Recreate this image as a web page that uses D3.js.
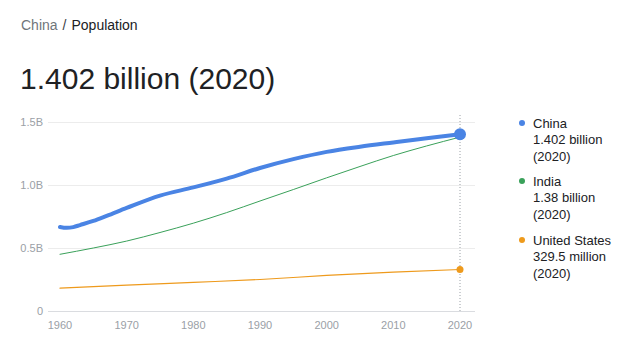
<!DOCTYPE html>
<html>
<head>
<meta charset="utf-8">
<script src="https://cdn.jsdelivr.net/npm/d3@7"></script>
<style>
  body { margin: 0; background: #fff; font-family: Arial, "Liberation Sans", sans-serif; }
  svg { display: block; }
</style>
</head>
<body>
<svg id="chart" width="631" height="351"></svg>
<script>
// population in billions
const chinaYears = [1960, 1961, 1962, 1963, 1965, 1967, 1970, 1975, 1980, 1985, 1990, 1995, 2000, 2005, 2010, 2015, 2020];
const chinaPop = [0.667, 0.660, 0.666, 0.682, 0.715, 0.755, 0.818, 0.916, 0.981, 1.051, 1.135, 1.205, 1.263, 1.304, 1.338, 1.371, 1.402];
const indiaYears = [1960, 1965, 1970, 1975, 1980, 1985, 1990, 1995, 2000, 2005, 2010, 2015, 2020];
const indiaPop = [0.450, 0.500, 0.555, 0.623, 0.697, 0.781, 0.873, 0.964, 1.057, 1.147, 1.234, 1.310, 1.380];
const usYears = [1960, 1970, 1980, 1990, 2000, 2010, 2020];
const usPop = [0.181, 0.205, 0.227, 0.250, 0.282, 0.309, 0.3295];

const yTicks = [0, 0.5, 1.0, 1.5];
const yTickLabels = ["0", "0.5B", "1.0B", "1.5B"];
const xTicks = [1960, 1970, 1980, 1990, 2000, 2010, 2020];

const seriesNames = ["China", "India", "United States"];
const seriesValues = ["1.402 billion", "1.38 billion", "329.5 million"];
const seriesColors = ["#4a84e4", "#3aa15a", "#ee9a1c"];
const seriesWidths = [4, 1, 1.2];

const svg = d3.select("#chart");

// breadcrumb
const crumb = svg.append("text").attr("x", 21).attr("y", 30).attr("font-size", 14);
crumb.append("tspan").attr("fill", "#70757a").text("China");
crumb.append("tspan").attr("fill", "#3c4043").attr("dx", 5).text("/");
crumb.append("tspan").attr("fill", "#202124").attr("dx", 5).text("Population");

svg.append("text")
    .attr("x", 20).attr("y", 89)
    .attr("font-size", 30)
    .attr("fill", "#202124")
    .text("1.402 billion (2020)");

const x = d3.scaleLinear().domain([1960, 2020]).range([60, 460]);
const y = d3.scaleLinear().domain([0, 1.5]).range([311, 122]);

// gridlines + labels
const g = svg.append("g");
g.selectAll(".grid")
    .data(yTicks)
    .join("line")
    .attr("x1", 48).attr("x2", 475)
    .attr("y1", d => y(d)).attr("y2", d => y(d))
    .attr("stroke", d => d === 0 ? "#dadce0" : "#ececec")
    .attr("stroke-width", 1)
    .attr("shape-rendering", "crispEdges");

g.selectAll(".ylab")
    .data(yTicks)
    .join("text")
    .attr("x", 43).attr("y", d => y(d) + 4)
    .attr("text-anchor", "end")
    .attr("font-size", 11)
    .attr("fill", "#9aa0a6")
    .text((d, i) => yTickLabels[i]);

g.selectAll(".xlab")
    .data(xTicks)
    .join("text")
    .attr("x", d => x(d)).attr("y", 329)
    .attr("text-anchor", "middle")
    .attr("font-size", 11)
    .attr("fill", "#9aa0a6")
    .text(d => d);

// dotted hover line at 2020
svg.append("line")
    .attr("x1", x(2020)).attr("x2", x(2020))
    .attr("y1", 115).attr("y2", 311)
    .attr("stroke", "#9aa0a6")
    .attr("stroke-width", 1)
    .attr("stroke-dasharray", "1,2");

const series = [
    { years: usYears, vals: usPop, c: 2 },
    { years: indiaYears, vals: indiaPop, c: 1 },
    { years: chinaYears, vals: chinaPop, c: 0 }
];

const line = d3.line()
    .x(d => x(d[0]))
    .y(d => y(d[1]))
    .curve(d3.curveMonotoneX);

// US first, China on top
series.forEach(s => {
    const pts = s.years.map((yr, i) => [yr, s.vals[i]]);
    svg.append("path")
        .datum(pts)
        .attr("fill", "none")
        .attr("stroke", seriesColors[s.c])
        .attr("stroke-width", seriesWidths[s.c])
        .attr("stroke-linecap", "round")
        .attr("d", line);
});

// end markers
svg.append("circle").attr("cx", x(2020)).attr("cy", y(usPop[usPop.length - 1])).attr("r", 3.5).attr("fill", seriesColors[2]);
svg.append("circle").attr("cx", x(2020)).attr("cy", y(indiaPop[indiaPop.length - 1])).attr("r", 3).attr("fill", seriesColors[1]);
svg.append("circle").attr("cx", x(2020)).attr("cy", y(chinaPop[chinaPop.length - 1])).attr("r", 6).attr("fill", seriesColors[0]);

// legend
const legendTop = [123, 181, 240];
const lg = svg.append("g");
seriesNames.forEach((name, i) => {
    lg.append("circle").attr("cx", 522).attr("cy", legendTop[i]).attr("r", 3).attr("fill", seriesColors[i]);
    const t = lg.append("text").attr("x", 533).attr("y", legendTop[i] + 4.5)
        .attr("font-size", 13).attr("fill", "#202124");
    t.append("tspan").attr("x", 533).text(name);
    t.append("tspan").attr("x", 533).attr("dy", 16.5).text(seriesValues[i]);
    t.append("tspan").attr("x", 533).attr("dy", 16.5).text("(2020)");
});
</script>
</body>
</html>
